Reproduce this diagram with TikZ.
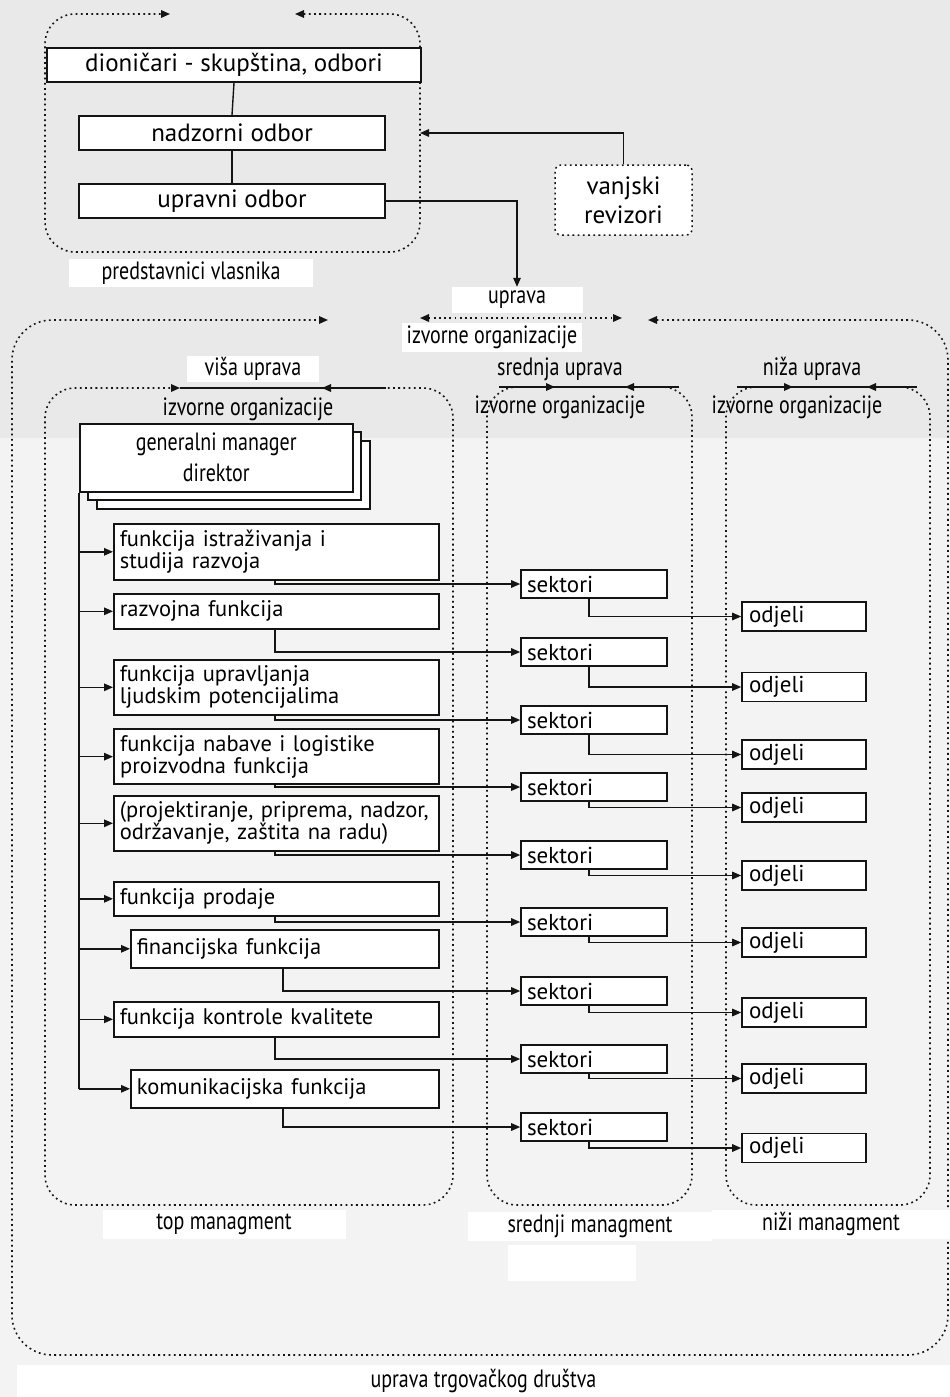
\documentclass[tikz,border=0pt]{standalone}
\usepackage{fontspec}
\setmainfont{PT Sans}
\newfontfamily\condfont[FakeStretch=0.8]{PT Sans}
\usetikzlibrary{arrows.meta}
\definecolor{bgtop}{RGB}{233,233,233}
\definecolor{bglow}{RGB}{243,243,243}
\definecolor{ink}{RGB}{20,20,18}
\begin{document}
\begin{tikzpicture}[x=1pt,y=-1pt,
  >={Triangle[length=9pt,width=7.5pt]},
  wire/.style={line width=1.4pt,draw=ink},
  arr/.style={wire,->},
  dotline/.style={line width=1.6pt,draw=ink,dash pattern=on 1.8pt off 3.4pt,rounded corners=30pt},
  topbox/.style={draw=ink,fill=white,line width=1.6pt,inner sep=0pt,
    font=\fontsize{25}{28}\selectfont},
  fbox/.style={draw=ink,fill=white,line width=1.6pt,inner xsep=6pt,inner ysep=0pt,
    anchor=north west,align=left,font=\fontsize{22.5}{22}\selectfont},
  gmbox/.style={draw=ink,fill=white,line width=1.5pt,inner sep=0pt,anchor=north west,
    minimum width=273pt,minimum height=68pt,align=center,
    font=\condfont\fontsize{25}{31}\selectfont},
  sbox/.style={draw=ink,fill=white,line width=1.6pt,inner xsep=6pt,inner ysep=0pt,
    text width=134pt,minimum height=28pt,align=left,font=\fontsize{23}{24}\selectfont},
  obox/.style={draw=ink,fill=white,line width=1.6pt,inner xsep=7pt,inner ysep=0pt,
    text width=110pt,minimum height=29pt,align=left,font=\fontsize{23}{24}\selectfont},
  lbl/.style={fill=white,inner sep=0pt,font=\condfont\fontsize{25}{26}\selectfont},
  cond/.style={inner sep=0pt,font=\condfont\fontsize{25}{26}\selectfont}]

% background
\fill[bgtop] (0,0) rectangle (950,1397);
\fill[bglow] (0,438) rectangle (950,1397);
\useasboundingbox (0,0) rectangle (950,1397);

% ---------- owners' representatives ----------
\draw[dotline,<->] (295,14) -- (420,14) -- (420,252) -- (45,252) -- (45,14) -- (170,14);
\node[topbox,minimum width=374pt,minimum height=34pt] (d) at (234,65) {dioničari - skupština, odbori};
\node[topbox,minimum width=306pt,minimum height=34pt] (n) at (232,133) {nadzorni odbor};
\node[topbox,minimum width=306pt,minimum height=34pt] (u) at (232,201) {upravni odbor};
\draw[wire] (d.south) -- (n.north);
\draw[wire] (n.south) -- (u.north);
\node[lbl,minimum width=244pt,minimum height=28pt] (pv) at (191,273) {predstavnici vlasnika};

% external auditors
\node[draw=ink,fill=white,line width=1.5pt,dash pattern=on 1.8pt off 3.4pt,rounded corners=6pt,
  minimum width=137pt,minimum height=70pt,inner sep=0pt,align=center,
  font=\fontsize{25}{29}\selectfont] (v) at (623.5,200) {vanjski\\revizori};
\coordinate (topE) at (420,133);
\draw[arr] (v.north) |- (topE);

% ---------- management ----------
\node[lbl,minimum width=131pt,minimum height=26pt] (up) at (517,300) {uprava};
\node[lbl,minimum width=180pt,minimum height=29pt] (io) at (492,337.5) {izvorne organizacije};
\draw[arr] (u.east) -| (up.north);
\draw[dotline,<->] (420,318) -- (622,318);

% company management frame
\draw[dotline,rounded corners=40pt,<->] (648,320) -- (948,320) -- (948,1355) -- (12,1355) -- (12,320) -- (328,320);
\node[lbl,minimum width=933pt,minimum height=32pt] (ut) at (483.5,1381) {uprava trgovačkog društva};

% top management frame
\draw[dotline,<->] (322,388) -- (453,388) -- (453,1205) -- (45,1205) -- (45,388) -- (180,388);
\draw[wire] (180,388) -- (386,388);
\node[lbl,minimum width=132pt,minimum height=26pt] (vu) at (253,369) {viša uprava};
\node[cond] (io1) at (248,409) {izvorne organizacije};
\node[lbl,minimum width=243pt,minimum height=29pt] (tm) at (224,1224) {top managment};

% middle management frame
\draw[dotline,<->] (625,387) -- (692,387) -- (692,1205) -- (487,1205) -- (487,387) -- (555,387);
\draw[wire] (499,387) -- (679,387);
\node[cond] (su) at (560,369) {srednja uprava};
\node[cond] (io2) at (560,407) {izvorne organizacije};
\node[lbl,minimum width=244pt,minimum height=29pt] (sm) at (590,1226) {srednji managment};
\node[fill=white,inner sep=0pt,minimum width=128pt,minimum height=36pt] (blank) at (572,1263) {};

% lower management frame
\draw[dotline,<->] (867,387) -- (930,387) -- (930,1205) -- (726,1205) -- (726,387) -- (793,387);
\draw[wire] (737,387) -- (917,387);
\node[cond] (nu) at (812,369) {niža uprava};
\node[cond] (io3) at (797,407) {izvorne organizacije};
\node[lbl,minimum width=238pt,minimum height=29pt] (nm) at (831,1224) {niži managment};

% general manager (stacked sheets)
\node[gmbox] (gm3) at (96,440) {};
\node[gmbox] (gm2) at (87,431) {};
\node[gmbox] (gm) at (79,423) {generalni manager\\direktor};

% functions
\node[fbox,text width=313pt,minimum height=56pt] (f1) at (113,523) {funkcija istraživanja i\\studija razvoja};
\node[fbox,text width=313pt,minimum height=35pt] (f2) at (113,593) {razvojna funkcija};
\node[fbox,text width=313pt,minimum height=55pt] (f3) at (113,659) {funkcija upravljanja\\ljudskim potencijalima};
\node[fbox,text width=313pt,minimum height=55pt,line width=2.3pt] (f4) at (113,728) {funkcija nabave i logistike\\proizvodna funkcija};
\node[fbox,text width=313pt,minimum height=55pt] (f5) at (113,795) {(projektiranje, priprema, nadzor,\\održavanje, zaštita na radu)};
\node[fbox,text width=313pt,minimum height=34pt] (f6) at (113,881) {funkcija prodaje};
\node[fbox,text width=296pt,minimum height=38pt] (f7) at (130,929) {financijska funkcija};
\node[fbox,text width=313pt,minimum height=35pt] (f8) at (113,1001) {funkcija kontrole kvalitete};
\node[fbox,text width=296pt,minimum height=38pt] (f9) at (130,1069) {komunikacijska funkcija};

% trunk from the general manager
\draw[wire] (gm.south west) -- (gm.south west |- f9.west);
\foreach \k in {1,...,9}
  \draw[arr] (gm.south west |- f\k.west) -- (f\k.west);

% sectors and departments
\foreach \i/\y in {1/584,2/652,3/720,4/787,5/855,6/922,7/991,8/1059,9/1127}
  \node[sbox] (s\i) at (594,\y) {sektori};
\foreach \i/\y in {1/616.5,2/687,3/754.5,4/807.5,5/875.5,6/942.5,7/1012.5,8/1078.5,9/1148}
  \node[obox] (o\i) at (804,\y) {odjeli};

\coordinate (xf) at (275,0);
\coordinate (xg) at (283,0);
\coordinate (xs) at (589,0);
\foreach \k in {1,2,3,4,5,6,8}
  \draw[arr] (f\k.south -| xf) |- (s\k.west);
\foreach \k in {7,9}
  \draw[arr] (f\k.south -| xg) |- (s\k.west);
\foreach \k in {1,...,9}
  \draw[arr] (s\k.south -| xs) |- (o\k.west);

\end{tikzpicture}
\end{document}
